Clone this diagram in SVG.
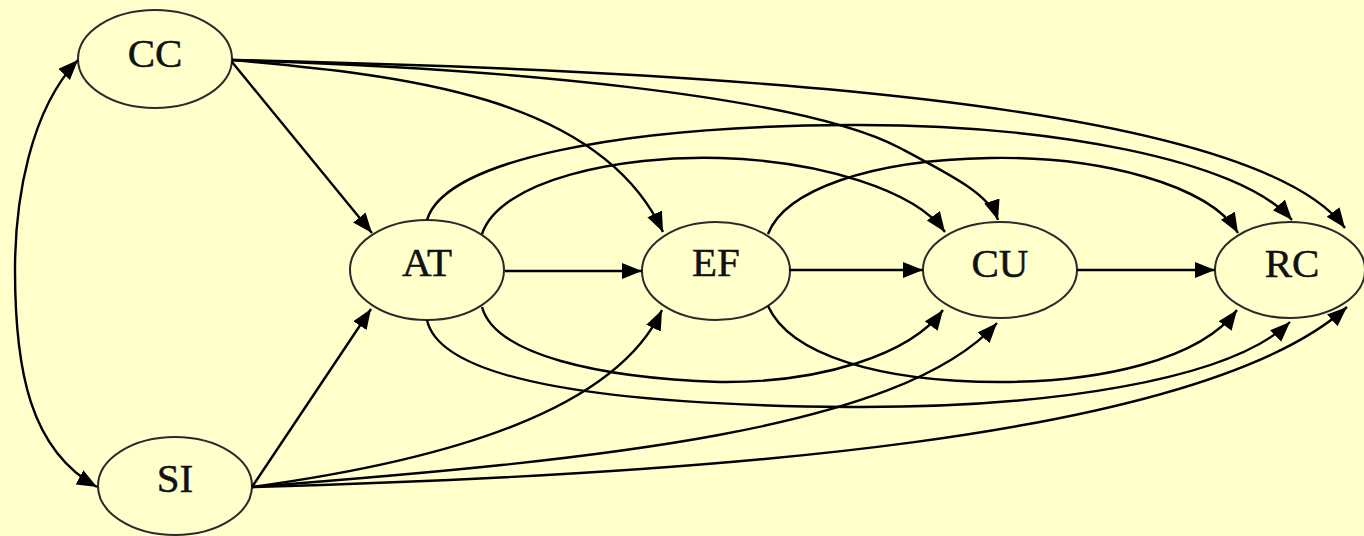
<svg xmlns="http://www.w3.org/2000/svg" width="1364" height="536" viewBox="0 0 1364 536">
<style>
.node ellipse{fill:none;stroke:#2a2a2a;stroke-width:2}
.node text{font-family:"Liberation Serif","Times New Roman",serif;font-size:41px;fill:#111;text-anchor:middle;stroke:#111;stroke-width:0.5}
#edges path{fill:none;stroke:#000;stroke-width:2.4;marker-end:url(#arr)}
</style>
<defs>
<marker id="arr" markerUnits="userSpaceOnUse" markerWidth="21" markerHeight="17" refX="20" refY="8" orient="auto-start-reverse" viewBox="0 0 21 17">
<path d="M0,0 L20,8 L0,16 z" fill="#000"/>
</marker>
</defs>
<rect width="1364" height="536" fill="#FFFFCC"/>
<g id="CC" class="node"><ellipse cx="155" cy="59" rx="77" ry="49"/><text x="155" y="67">CC</text></g>
<g id="SI" class="node"><ellipse cx="175" cy="486" rx="77" ry="49"/><text x="175" y="492">SI</text></g>
<g id="AT" class="node"><ellipse cx="427" cy="270" rx="77" ry="50"/><text x="427" y="276">AT</text></g>
<g id="EF" class="node"><ellipse cx="716" cy="271" rx="74" ry="49"/><text x="716" y="276">EF</text></g>
<g id="CU" class="node"><ellipse cx="1000" cy="270" rx="77" ry="48"/><text x="1000" y="277">CU</text></g>
<g id="RC" class="node"><ellipse cx="1290" cy="270" rx="75" ry="48"/><text x="1292" y="277">RC</text></g>
<g id="edges">
<path d="M78,60 C30,110 15,200 15,270 C15,370 30,450 97,487" style="marker-start:url(#arr)"/>
<path d="M232,62 L372,233"/>
<path d="M252,487 L371,309"/>
<path d="M505,271 L642,271"/>
<path d="M789,270 L923,270"/>
<path d="M1077,270 L1215,270"/>
<path d="M232,60 C400,75 600,95 663,232"/>
<path d="M232,60 C500,68 800,95 900,148 C953,176 990,195 998,220"/>
<path d="M232,60 C700,70 1250,100 1345,228"/>
<path d="M427,220 C445,160 620,126 850,125 C1050,124 1240,160 1292,220"/>
<path d="M482,234 C500,180 620,155 720,158 C820,161 915,190 945,232"/>
<path d="M768,234 C785,190 870,160 990,158 C1100,156 1210,185 1238,233"/>
<path d="M252,487 C450,460 615,410 662,310"/>
<path d="M252,487 C600,460 900,430 997,323"/>
<path d="M252,487 C700,475 1200,440 1347,307"/>
<path d="M427,320 C440,380 600,405 850,407 C1050,408 1230,380 1290,322"/>
<path d="M482,307 C495,355 600,378 720,382 C820,383 910,355 943,310"/>
<path d="M768,306 C790,355 880,382 1000,382 C1100,382 1200,360 1237,310"/>
</g>
</svg>
